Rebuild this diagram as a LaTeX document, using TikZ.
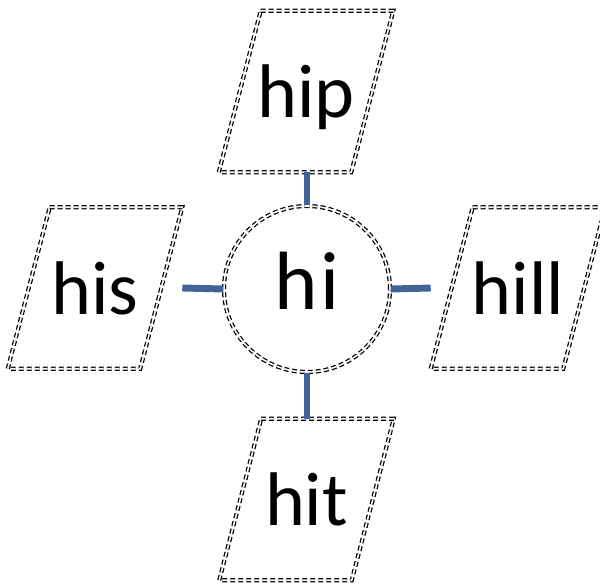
\documentclass[tikz,border=0pt]{standalone}
\usepackage{fontspec}
\setmainfont{Carlito}
\definecolor{linkblue}{RGB}{64,100,150}
\tikzset{
  word/.style={rectangle, minimum width=130.5pt, minimum height=120.75pt, inner sep=0pt,
    text depth=0pt, font=\fontsize{57}{62}\selectfont},
  ddash/.style={draw, line width=0.95pt, double, double distance=1.2pt,
    dash pattern=on 3.7pt off 2.3pt},
  link/.style={draw=linkblue, line width=5.2pt},
}
\newcommand{\slantbox}[1]{%
  \draw[ddash] ([xshift=31.5pt]#1.north west) -- (#1.north east)
    -- ([xshift=-31.5pt]#1.south east) -- (#1.south west) -- cycle;}
\begin{document}
\begin{tikzpicture}
  [x=0.75pt,y=-0.75pt]
  \useasboundingbox (0,0) rectangle (600,585);
  \node[word] (hip) at (306,91.5) {hip};
  \node[word] (his) at (95,288) {his};
  \node[word] (hill) at (518,288) {hill};
  \node[word] (hit) at (306.5,499.5) {hit};
  \node[circle, ddash, minimum size=124.5pt, inner sep=0pt, text depth=12pt,
    font=\fontsize{62}{68}\selectfont] (hi) at (307,289) {h\kern2pt i};

  \slantbox{hip}
  \slantbox{his}
  \slantbox{hill}
  \slantbox{hit}

  \draw[link] (hi.north) -- (hi.north |- hip.south);
  \draw[link] (hi.south) -- (hi.south |- hit.north);
  \draw[link] (hi.west) -- (his.east);
  \draw[link] (hi.east) -- (hill.west);
\end{tikzpicture}
\end{document}
